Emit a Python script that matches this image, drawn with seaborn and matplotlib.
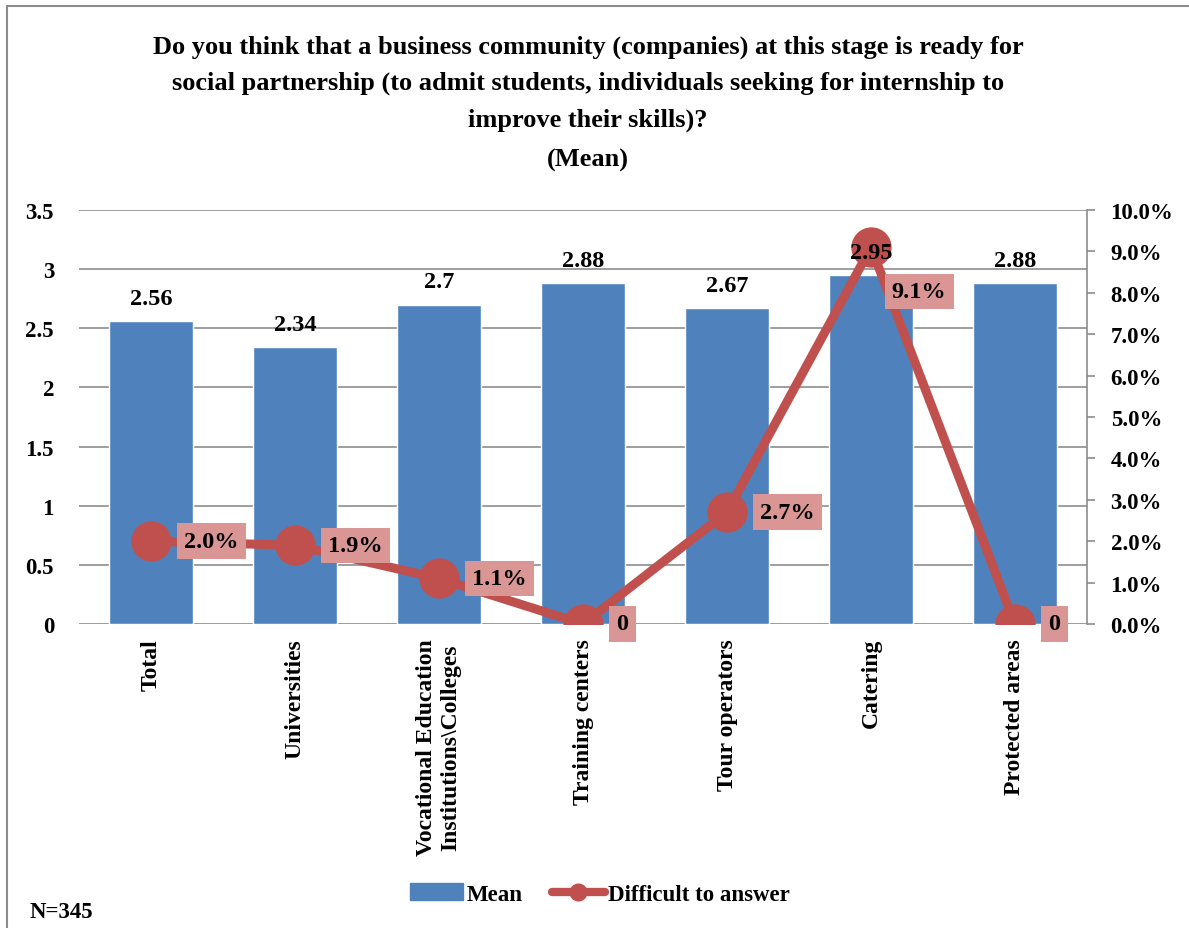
import matplotlib
matplotlib.use("Agg")
import matplotlib.pyplot as plt
import matplotlib.patches as mpatches
from matplotlib.lines import Line2D
from matplotlib.ticker import FuncFormatter, MultipleLocator
import seaborn as sns
import pandas as pd

categories = ["Total", "Universities", "Vocational Education\nInstitutions\\Colleges",
              "Training centers", "Tour operators", "Catering", "Protected areas"]
mean_values = [2.56, 2.34, 2.70, 2.88, 2.67, 2.95, 2.88]
difficult_share = [0.020, 0.019, 0.011, 0.0, 0.027, 0.091, 0.0]

title_lines = ["Do you think that a business community (companies) at this stage is ready for",
               "social partnership (to admit students, individuals seeking for internship to",
               "improve their skills)?"]
subtitle = "(Mean)"

BAR = "#4F81BD"
LINE = "#C0504D"
LABEL_BOX = "#DA9694"
GRID = "#8C8C8C"

sns.set_theme(style="white")
plt.rcParams["font.family"] = ["Liberation Serif", "DejaVu Serif"]
plt.rcParams["font.weight"] = "bold"
for key in ("text.color", "axes.labelcolor", "xtick.labelcolor", "ytick.labelcolor"):
    plt.rcParams[key] = "black"

df = pd.DataFrame({"category": categories, "mean": mean_values, "difficult": difficult_share})
df["pos"] = range(len(df))

fig = plt.figure(figsize=(11.89, 9.29), dpi=100)
ax = fig.add_axes([79 / 1189, 1 - 625 / 929, (1087 - 79) / 1189, (625 - 211) / 929])

sns.barplot(data=df, x="category", y="mean", color=BAR, width=0.58, saturation=1,
            ax=ax, zorder=2)
ax.set_ylim(0, 3.5)
ax.yaxis.set_major_locator(MultipleLocator(0.5))
ax.yaxis.set_major_formatter(FuncFormatter(lambda v, p: f"{v:g}"))
ax.grid(axis="y", color=GRID, linewidth=1.2, zorder=0)
ax.set_axisbelow(True)
for s in ax.spines.values():
    s.set_visible(False)
ax.set_xlabel("")
ax.set_ylabel("")
ax.tick_params(axis="y", length=0, pad=18, labelsize=16.5, labelcolor="black")
ax.tick_params(axis="x", length=0, pad=10, labelsize=17, labelcolor="black")
ax.set_xticks(range(len(categories)))
ax.set_xticklabels(categories, rotation=90, va="top", ha="center", multialignment="center")
ax.set_xlim(-0.5, len(categories) - 0.5)

ax2 = ax.twinx()
sns.lineplot(data=df, x="pos", y="difficult", color=LINE, linewidth=6.5, marker="o",
             markersize=29, markeredgewidth=0, ax=ax2, zorder=3)
ax2.set_ylim(0, 0.10)
ax2.set_xlim(-0.5, len(categories) - 0.5)
ax2.yaxis.set_major_locator(MultipleLocator(0.01))
ax2.yaxis.set_major_formatter(FuncFormatter(lambda v, p: f"{v * 100:.1f}%"))
for k, s in ax2.spines.items():
    s.set_visible(k == "right")
ax2.spines["right"].set_color(GRID)
ax2.spines["right"].set_linewidth(1.2)
ax2.tick_params(axis="y", direction="out", length=6, width=1.2, color=GRID,
                labelsize=16.5, pad=11, labelcolor="black")
ax2.set_ylabel("")
ax2.set_xlabel("")

# Mean labels above bars, drawn over the line layer
for i, v in enumerate(mean_values):
    ax2.annotate(f"{v:g}", xy=(i, v), xycoords=ax.transData, xytext=(0, 9),
                 textcoords="offset points", ha="center", va="bottom",
                 fontsize=17.5, color="black", zorder=6)

# Share labels in boxes beside the markers
for i, v in enumerate(difficult_share):
    txt = "0" if v == 0 else f"{v * 100:.1f}%"
    offset = (15, -32) if v == max(difficult_share) else (24, 0)
    ax2.annotate(txt, xy=(i, v), xytext=offset, textcoords="offset points",
                 ha="left", va="center", fontsize=17.5, color="black", zorder=6,
                 bbox=dict(boxstyle="square,pad=0.3", fc=LABEL_BOX, ec="none"),
                 annotation_clip=False)

# Title block
for j, line in enumerate(title_lines):
    fig.text(588 / 1189, 1 - (47 + 36.5 * j) / 929, line, ha="center", va="center",
             fontsize=19, color="black")
fig.text(588 / 1189, 1 - 160 / 929, subtitle, ha="center", va="center", fontsize=19,
         color="black")

handles = [mpatches.Patch(color=BAR, label="Mean"),
           Line2D([0], [0], color=LINE, linewidth=6, marker="o", markersize=12,
                  label="Difficult to answer")]
leg = fig.legend(handles=handles, loc="center", bbox_to_anchor=(600 / 1189, 1 - 895 / 929),
                 ncol=2, frameon=False, fontsize=16.5, handlelength=2.3, columnspacing=1.3,
                 handletextpad=0.15)
for t in leg.get_texts():
    t.set_color("black")

fig.text(30 / 1189, 1 - 913 / 929, "N=345", ha="left", va="center", fontsize=16.5,
         color="black")

# Outer chart frame
fig.patches.append(mpatches.Rectangle((7 / 1189, -0.05), 1.2, 1 - 7 / 929 + 0.05,
                                      transform=fig.transFigure, fill=False,
                                      edgecolor="#8C8C8C", linewidth=1.5))

fig.savefig("out.png", dpi=100)
